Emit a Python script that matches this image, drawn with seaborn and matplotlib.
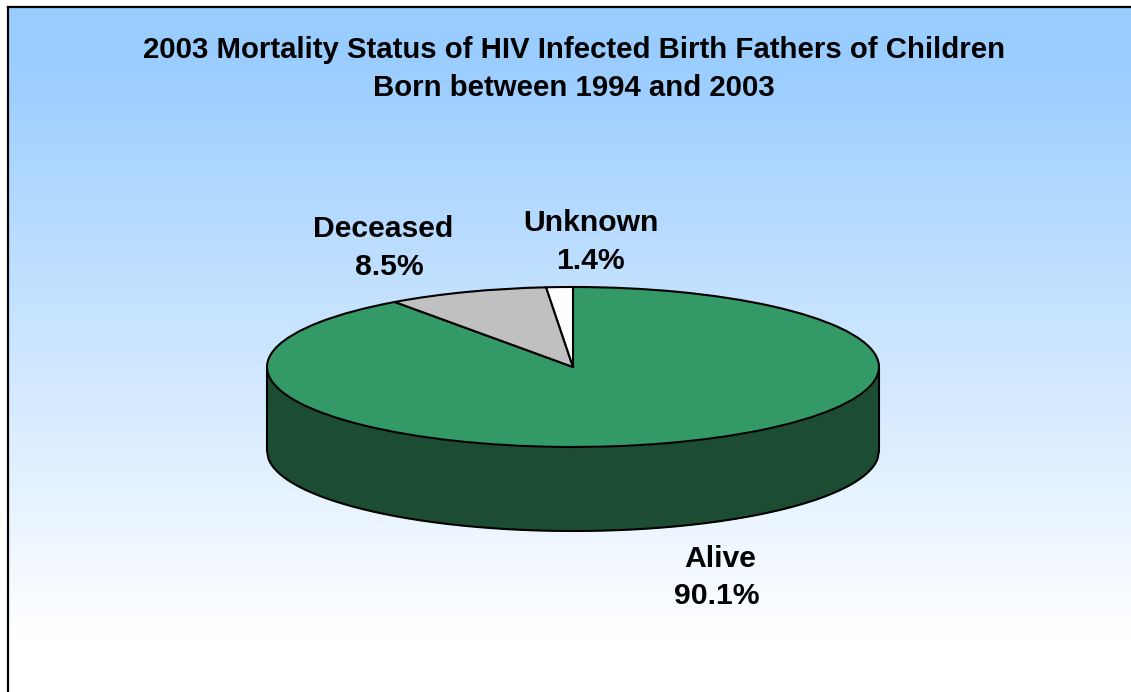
import numpy as np
import matplotlib
matplotlib.use("Agg")
import matplotlib.pyplot as plt
from matplotlib.colors import LinearSegmentedColormap
import seaborn as sns

categories = ["Alive", "Deceased", "Unknown"]
percents = [90.1, 8.5, 1.4]
slice_colors = ["#339966", "#C0C0C0", "#FFFFFF"]
side_color = "#1C4D33"
title_lines = ["2003 Mortality Status of HIV Infected Birth Fathers of Children",
               "Born between 1994 and 2003"]

W, H = 1131, 692
CX, CY = 573, 367      # pie centre in pixels
RX, RY = 306, 80       # ellipse radii
DEPTH = 84 / RY        # side height, in pie units

sns.set_theme(style="white")
plt.rcParams["font.family"] = ["Liberation Sans", "DejaVu Sans"]


def px_text(fig, x, y, s, size=21.7):
    fig.text(x / W, 1 - y / H, s, ha="center", va="center",
             fontsize=size, fontweight="bold", color="black")


fig = plt.figure(figsize=(W / 100, H / 100), dpi=100, facecolor="white")

# background gradient, flat at the top and white from about y=640
bg = fig.add_axes([8 / W, 0, 1 - 8 / W, 1 - 7 / H])
rows = np.arange(7, H)
t = np.clip((rows - 50) / 590, 0, 1).reshape(-1, 1)
cmap = LinearSegmentedColormap.from_list("sky", ["#99CCFF", "#FFFFFF"])
bg.imshow(t, cmap=cmap, aspect="auto", vmin=0, vmax=1)
bg.set_xticks([])
bg.set_yticks([])
sns.despine(ax=bg, right=True, bottom=True, left=False, top=False)
for side in ["left", "top"]:
    bg.spines[side].set_linewidth(1.6)
    bg.spines[side].set_color("black")

# pie axes fills the figure, unit circle squashed into the ellipse
ax = fig.add_axes([0, 0, 1, 1], facecolor="none")
ax.pie(percents, startangle=90, counterclock=False, colors=slice_colors,
       wedgeprops={"edgecolor": "black", "linewidth": 1.5, "zorder": 3})
ax.set_aspect("auto")
ax.set_xlim(-CX / RX, (W - CX) / RX)
ax.set_ylim((CY - H) / RY, CY / RY)

# side wall of the disc
xs = np.linspace(-1, 1, 400)
front = -np.sqrt(1 - xs ** 2)
ax.fill_between(xs, front, front - DEPTH, color=side_color, linewidth=0, zorder=1)
ax.plot(xs, front - DEPTH, color="black", lw=1.5, zorder=2)
ax.vlines([-1, 1], -DEPTH, 0, color="black", lw=1.5, zorder=2)

for line, x, y in zip(title_lines, [574.5, 573.5], [50, 88]):
    px_text(fig, x, y, line, size=21.2)

px_text(fig, 383, 229, categories[1])
px_text(fig, 389, 267, "%.1f%%" % percents[1])
px_text(fig, 591, 223, categories[2])
px_text(fig, 590, 261, "%.1f%%" % percents[2])
px_text(fig, 720, 559, categories[0])
px_text(fig, 717, 596, "%.1f%%" % percents[0])

fig.savefig("out.png", dpi=100, facecolor="white")
